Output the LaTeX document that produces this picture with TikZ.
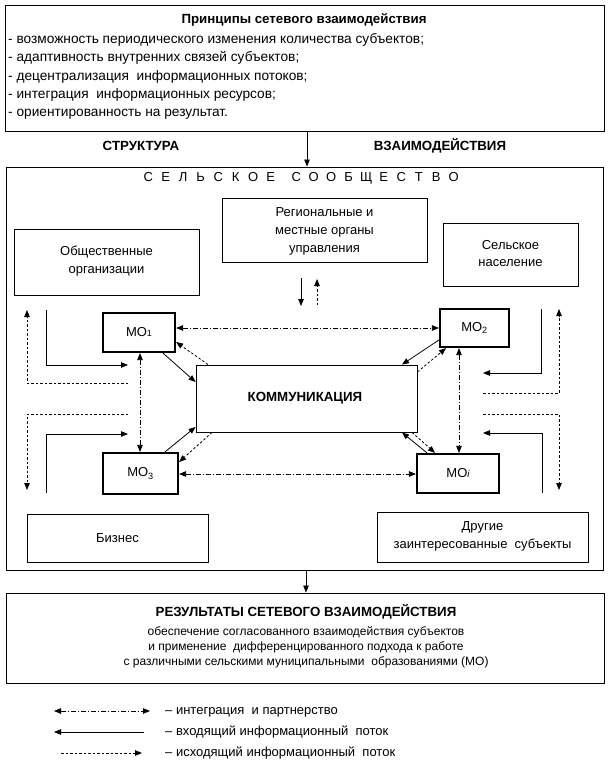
\documentclass[tikz,border=0pt]{standalone}
\usepackage{fontspec}
\setmainfont{Liberation Sans}
\usetikzlibrary{arrows.meta}
\newcommand{\lsp}[1]{\makebox[17.5pt]{#1}}
\begin{document}
\begin{tikzpicture}[x=1pt,y=-1pt,
  every node/.style={font=\fontsize{13}{15}\selectfont},
  frame/.style={draw, line width=0.9pt, inner sep=0pt},
  mobox/.style={draw, line width=2.2pt, inner sep=0pt},
  txt/.style={inner sep=0pt, text height=9pt, text depth=3pt},
  listtxt/.style={txt, anchor=west, font=\fontsize{13.7}{15}\selectfont},
  headtxt/.style={txt, font=\fontsize{13.3}{15}\selectfont\bfseries},
  restxt/.style={txt, font=\fontsize{12}{15}\selectfont},
  conn/.style={line width=0.8pt},
  tip/.style={-{Triangle[length=7pt,width=5.5pt]}},
  bitip/.style={{Triangle[length=7pt,width=5.5pt]}-{Triangle[length=7pt,width=5.5pt]}},
  integ/.style={conn, dash pattern=on 5pt off 2pt on 1pt off 2pt},
  outflow/.style={conn, dash pattern=on 2.5pt off 2pt},
]
\useasboundingbox (0,0) rectangle (611,770);
\fill[white] (0,0) rectangle (611,770);

% Principles box
\node[frame, minimum width=599pt, minimum height=126pt] (principles) at (305,68) {};
\node[headtxt] (ptitle) at (304,21) {Принципы сетевого взаимодействия};
\node[listtxt] (p1) at (8,41) {- возможность периодического изменения количества субъектов;};
\node[listtxt] (p2) at (8,59) {- адаптивность внутренних связей субъектов;};
\node[listtxt] (p3) at (8,77.5) {- децентрализация\ \ информационных потоков;};
\node[listtxt] (p4) at (8,96) {- интеграция\ \ информационных ресурсов;};
\node[listtxt] (p5) at (8,114) {- ориентированность на результат.};

\node[headtxt] (struct) at (141,148) {СТРУКТУРА};
\node[headtxt] (interact) at (440,148) {ВЗАИМОДЕЙСТВИЯ};

% Village frame
\node[frame, minimum width=597pt, minimum height=403pt] (village) at (304.5,368.5) {};
\node[txt] (vtitle) at (301,179) {\lsp{С}\lsp{Е}\lsp{Л}\lsp{Ь}\lsp{С}\lsp{К}\lsp{О}\lsp{Е}\hspace{8pt}\lsp{С}\lsp{О}\lsp{О}\lsp{Б}\lsp{Щ}\lsp{Е}\lsp{С}\lsp{Т}\lsp{В}\lsp{О}};

\coordinate (ax) at (307,0);
\draw[conn, tip] (ax |- principles.south) -- (ax |- village.north);

% Actor boxes
\node[frame, minimum width=205pt, minimum height=64pt] (region) at (324.5,230) {};
\node[txt] (r1) at (324.5,213) {Региональные и};
\node[txt] (r2) at (324.5,231) {местные органы};
\node[txt] (r3) at (324.5,249) {управления};

\node[frame, minimum width=185pt, minimum height=66pt] (public) at (106.5,262) {};
\node[txt] (pu1) at (106.5,252) {Общественные};
\node[txt] (pu2) at (106.5,270) {организации};

\node[frame, minimum width=135pt, minimum height=63pt] (rural) at (510.5,254.5) {};
\node[txt] (ru1) at (510.5,246) {Сельское};
\node[txt] (ru2) at (510.5,263) {население};

\node[frame, minimum width=181pt, minimum height=48pt] (business) at (117.5,538) {};
\node[txt] (bu1) at (117.5,539) {Бизнес};

\node[frame, minimum width=211pt, minimum height=50pt] (others) at (482.5,537) {};
\node[txt] (ot1) at (482.5,527) {Другие};
\node[txt] (ot2) at (482.5,545) {заинтересованные\ \ субъекты};

% Communication
\node[frame, minimum width=221pt, minimum height=67pt] (comm) at (306.5,398.5) {};
\node[headtxt] (commt) at (305,398) {КОММУНИКАЦИЯ};

% MO boxes
\node[mobox, minimum width=72pt, minimum height=39pt] (mo1) at (139,332.5) {МО{\fontsize{9}{9}\selectfont 1}};
\node[mobox, minimum width=69pt, minimum height=38pt] (mo2) at (474.5,328) {МО\textsubscript{2}};
\node[mobox, minimum width=75pt, minimum height=41pt] (mo3) at (140.5,473.5) {МО\textsubscript{3}};
\node[mobox, minimum width=82pt, minimum height=39pt] (moi) at (458,473.5) {МО{\fontsize{10}{10}\selectfont\itshape i}};

% Integration links
\draw[integ, bitip] (mo1.east |- 0,328) -- (mo2.west |- 0,328);
\draw[integ, bitip] (mo3.east |- 0,474) -- (moi.west |- 0,474);
\draw[integ, bitip] (140,0 |- mo1.south) -- (140,0 |- mo3.north);
\draw[integ, bitip] (459,0 |- mo2.south) -- (459,0 |- moi.north);

% Diagonals MO <-> communication
\draw[conn, tip] (163,0 |- mo1.south) -- (comm.west |- 0,382);
\draw[outflow, tip] (208,0 |- comm.north) -- (mo1.east |- 0,342);
\draw[conn, tip] (mo2.west |- 0,340) -- (402,0 |- comm.north);
\draw[outflow, tip] (comm.east |- 0,372) -- (446,0 |- mo2.south);
\draw[conn, tip] (165,0 |- mo3.north) -- (comm.west |- 0,427);
\draw[outflow, tip] (212,0 |- comm.south) -- (mo3.east |- 0,462);
\draw[conn, tip] (427,0 |- moi.north) -- (402,0 |- comm.south);
\draw[outflow, tip] (412,0 |- comm.south) -- (435,0 |- moi.north);

% Region arrows
\coordinate (rg1a) at (301,278);
\coordinate (rg1b) at (301,306);
\coordinate (rg2a) at (317,305);
\coordinate (rg2b) at (317,279);
\draw[conn, tip] (rg1a) -- (rg1b);
\draw[outflow, tip] (rg2a) -- (rg2b);

% Left side flows
\coordinate (ul1) at (46,310);
\coordinate (ul2) at (128,365);
\coordinate (ul3) at (128,383);
\coordinate (ul4) at (27,310);
\draw[conn, tip] (ul1) |- (ul2);
\draw[outflow, tip] (ul3) -| (ul4);
\coordinate (ll1) at (128,414);
\coordinate (ll2) at (27,490);
\coordinate (ll3) at (46,493);
\coordinate (ll4) at (128,434);
\draw[outflow, tip] (ll1) -| (ll2);
\draw[conn, tip] (ll3) |- (ll4);

% Right side flows
\coordinate (ur1) at (541,309);
\coordinate (ur2) at (483,373);
\coordinate (ur3) at (483,393);
\coordinate (ur4) at (559,309);
\draw[conn, tip] (ur1) |- (ur2);
\draw[outflow, tip] (ur3) -| (ur4);
\coordinate (lr1) at (483,414);
\coordinate (lr2) at (559,490);
\coordinate (lr3) at (542,493);
\coordinate (lr4) at (483,433);
\draw[outflow, tip] (lr1) -| (lr2);
\draw[conn, tip] (lr3) |- (lr4);

% Results
\node[frame, minimum width=598pt, minimum height=90pt] (results) at (305,638) {};
\coordinate (bx) at (306,0);
\draw[conn, tip] (bx |- village.south) -- (bx |- results.north);
\node[headtxt] (res0) at (306,613) {РЕЗУЛЬТАТЫ СЕТЕВОГО ВЗАИМОДЕЙСТВИЯ};
\node[restxt] (res1) at (306,632) {обеспечение согласованного взаимодействия субъектов};
\node[restxt] (res2) at (306,647) {и применение\ \ дифференцированного подхода к работе};
\node[restxt] (res3) at (306,662) {с различными сельскими муниципальными\ \ образованиями (МО)};

% Legend
\coordinate (lg1a) at (54,711);
\coordinate (lg1b) at (150,711);
\coordinate (lg2a) at (144,732);
\coordinate (lg2b) at (54,732);
\coordinate (lg3a) at (61,753);
\coordinate (lg3b) at (142,753);
\draw[integ, bitip] (lg1a) -- (lg1b);
\draw[conn, tip] (lg2a) -- (lg2b);
\draw[outflow, tip] (lg3a) -- (lg3b);
\node[txt, anchor=west] (lt1) at (165,711) {– интеграция\ \ и партнерство};
\node[txt, anchor=west] (lt2) at (165,732) {– входящий информационный\ \ поток};
\node[txt, anchor=west] (lt3) at (165,753) {– исходящий информационный\ \ поток};
\end{tikzpicture}
\end{document}
